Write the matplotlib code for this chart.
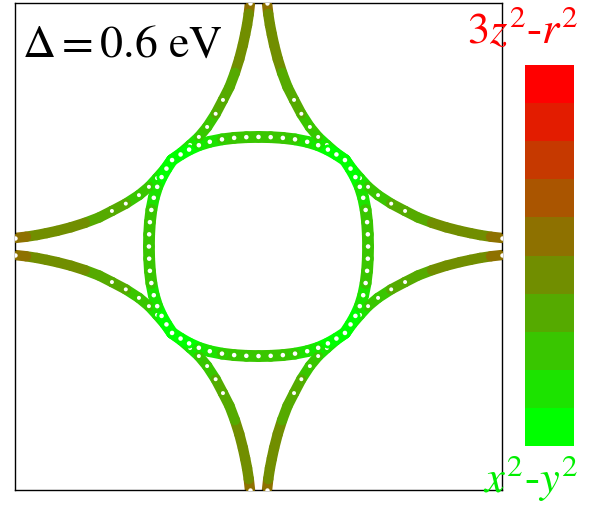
"""2 軌道模型のフェルミ面を軌道成分で色分けして描く。"""

import matplotlib

matplotlib.use("Agg")

import matplotlib.pyplot as plt  # noqa: E402
import numpy as np  # noqa: E402
from matplotlib.collections import LineCollection  # noqa: E402
from matplotlib.colors import BoundaryNorm, ListedColormap  # noqa: E402

# 外側バンド: 左上コーナー (-1, 1) を囲む弧の半分（ゾーン上端から対角線まで）。単位は k/π
OUTER_KX = [-0.035, -0.040, -0.047, -0.055, -0.064, -0.079, -0.097, -0.119,
            -0.146, -0.176, -0.211, -0.245, -0.281, -0.318, -0.357]
OUTER_KY = [1.000, 0.955, 0.910, 0.870, 0.828, 0.770, 0.713, 0.655,
            0.602, 0.545, 0.491, 0.450, 0.417, 0.385, 0.357]
# 3z^2-r^2 成分の重み（0 = x^2-y^2, 1 = 3z^2-r^2）
OUTER_W = [0.55, 0.47, 0.45, 0.44, 0.43, 0.42, 0.41, 0.35,
           0.33, 0.31, 0.25, 0.20, 0.15, 0.08, 0.03]

# 内側ポケット: Γ 周りの角丸四角形の 1/8（上端中央から対角線まで）
INNER_KX = [0.000, -0.050, -0.100, -0.150, -0.200, -0.245, -0.285, -0.320, -0.355]
INNER_KY = [0.450, 0.449, 0.446, 0.440, 0.430, 0.416, 0.398, 0.378, 0.355]
INNER_W = [0.28, 0.27, 0.25, 0.20, 0.15, 0.10, 0.06, 0.03, 0.02]

DELTA_LABEL = r"$\Delta = 0.6\ \mathrm{eV}$"
TOP_LABEL = r"$3z^2$-$r^2$"
BOTTOM_LABEL = r"$x^2$-$y^2$"
N_LEVELS = 10

plt.rcParams["mathtext.fontset"] = "stix"
plt.rcParams["font.family"] = ["Liberation Serif", "DejaVu Serif"]


def mirror_diagonal(kx, ky, w):
    """直線 kx = -ky に関する鏡映で 1/8 を 1/4 に広げる。"""
    kx, ky, w = np.asarray(kx), np.asarray(ky), np.asarray(w)
    full_kx = np.concatenate([kx, -ky[::-1][1:]])
    full_ky = np.concatenate([ky, -kx[::-1][1:]])
    full_w = np.concatenate([w, w[::-1][1:]])
    return full_kx, full_ky, full_w


def add_band(axes, kx, ky, w, cmap, norm, linewidth):
    """4 象限に折り返して、重みで色を変える太線として描く。"""
    for sx in (1, -1):
        for sy in (1, -1):
            points = np.column_stack([kx * sx, ky * sy])
            segments = np.stack([points[:-1], points[1:]], axis=1)
            lc = LineCollection(segments, cmap=cmap, norm=norm,
                                linewidths=linewidth, capstyle="round", zorder=2)
            lc.set_array((w[:-1] + w[1:]) / 2)
            axes.add_collection(lc)


def add_rings(axes, kx, ky, w, cmap, norm, size, max_w=0.35):
    """緑の強い部分だけ白抜きの丸を重ねて、散布点の質感を出す。"""
    keep = w < max_w
    for sx in (1, -1):
        for sy in (1, -1):
            axes.scatter(kx[keep] * sx, ky[keep] * sy, s=size,
                         facecolors="white", edgecolors=cmap(norm(w[keep])),
                         linewidths=2.0, zorder=3)


levels = np.linspace(0, 1, N_LEVELS)
colors = [(t, 1 - t, 0) for t in levels]
cmap = ListedColormap(colors)
bounds = np.linspace(0, 1, N_LEVELS + 1)
norm = BoundaryNorm(bounds, N_LEVELS)

outer_kx, outer_ky, outer_w = mirror_diagonal(OUTER_KX, OUTER_KY, OUTER_W)
inner_kx, inner_ky, inner_w = mirror_diagonal(INNER_KX, INNER_KY, INNER_W)

fig = plt.figure(figsize=(6.02, 5.08), dpi=100)
ax = fig.add_axes([15 / 602, 18 / 508, 487 / 602, 487 / 508])
ax.set_xlim(-1, 1)
ax.set_ylim(-1, 1)
ax.set_xticks([])
ax.set_yticks([])
for spine in ax.spines.values():
    spine.set_linewidth(1.0)

add_band(ax, outer_kx, outer_ky, outer_w, cmap, norm, 7.5)
add_band(ax, inner_kx, inner_ky, inner_w, cmap, norm, 8.5)
add_rings(ax, outer_kx, outer_ky, outer_w, cmap, norm, 24)
add_rings(ax, inner_kx, inner_ky, inner_w, cmap, norm, 28, max_w=1.0)

# ゾーン端の点（白抜きの小さな丸）
ends_kx = np.array([outer_kx[0], outer_kx[-1]])
ends_ky = np.array([outer_ky[0], outer_ky[-1]])
for sx in (1, -1):
    for sy in (1, -1):
        ax.scatter(ends_kx * sx, ends_ky * sy, s=22, facecolors="white",
                   edgecolors=cmap(norm(OUTER_W[0])), linewidths=1.5,
                   zorder=4, clip_on=True)

fig.text(22 / 602, (508 - 57) / 508, DELTA_LABEL, fontsize=33,
         va="baseline", ha="left")

# カラーバーは目盛りなしの 10 段階ブロック
cax = fig.add_axes([525 / 602, 62 / 508, 49 / 602, 381 / 508])
centers = (bounds[:-1] + bounds[1:]) / 2
cax.pcolormesh([0, 1], bounds, centers.reshape(-1, 1), cmap=cmap, norm=norm)
cax.set_xlim(0, 1)
cax.set_ylim(0, 1)
cax.set_axis_off()

fig.text(578 / 602, (508 - 43) / 508, TOP_LABEL, fontsize=32, color="red",
         ha="right", va="baseline")
fig.text(578 / 602, (508 - 492) / 508, BOTTOM_LABEL, fontsize=32,
         color="#00ee00", ha="right", va="baseline")

fig.savefig("out.png", dpi=100)
plt.close(fig)
